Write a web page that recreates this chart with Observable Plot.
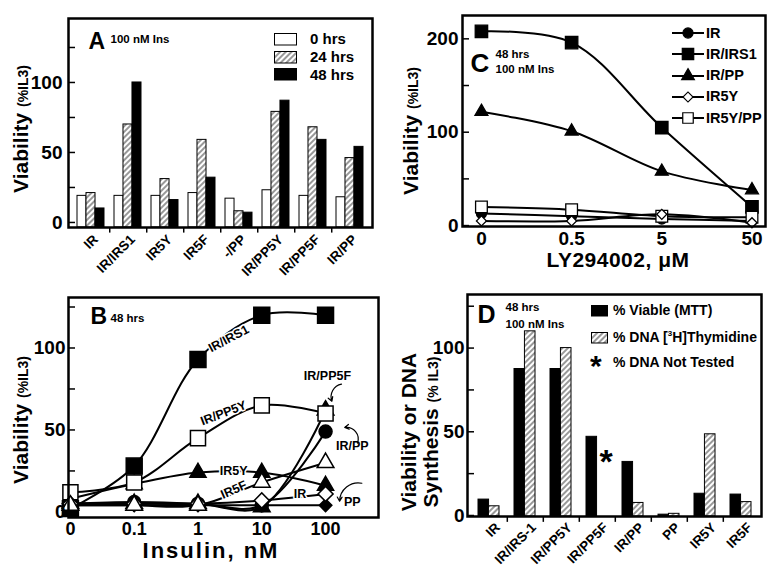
<!DOCTYPE html>
<html>
<head>
<meta charset="utf-8">
<script src="https://cdn.jsdelivr.net/npm/d3@7"></script>
<script src="https://cdn.jsdelivr.net/npm/@observablehq/plot@0.6"></script>
<style>
html,body{margin:0;padding:0;background:#fff;}
#fig{position:relative;width:774px;height:570px;overflow:hidden;font-family:"Liberation Sans",Arial,Helvetica,sans-serif;font-weight:bold;color:#000;background:#fff;}
.t{position:absolute;white-space:nowrap;line-height:1;}
.yl{position:absolute;white-space:nowrap;line-height:1;transform:translate(-50%,-50%) rotate(-90deg);font-size:21px;}
.yl span{font-size:14px;}
</style>
</head>
<body>
<svg width="0" height="0" style="position:absolute">
<defs>
<pattern id="hatch" width="4" height="4" patternUnits="userSpaceOnUse" patternTransform="rotate(45)">
<rect width="4" height="4" fill="#fff"/>
<line x1="1" y1="0" x2="1" y2="4" stroke="#777" stroke-width="1.5"/>
</pattern>
</defs>
</svg>
<div id="fig"></div>
<script>
// ================= DATA =================
// Panel A : viability at 100 nM insulin
const aGroups = ["IR","IR/IRS1","IR5Y","IR5F","-/PP","IR/PP5Y","IR/PP5F","IR/PP"];
const aSeries = ["0 hrs","24 hrs","48 hrs"];
const aHr0  = [19, 19, 19, 21, 17, 23, 19, 18];
const aHr24 = [21, 70, 31, 59,  8, 79, 68, 46];
const aHr48 = [10,100, 16, 32,  7, 87, 59, 54];
const aYTicks = [0, 50, 100];
const aYMinor = [25, 75, 125];

// Panel B : insulin dose response, 48 hrs
const bDoses = ["0","0.1","1","10","100"];
const bNames = ["IR/IRS1","IR/PP5Y","IR/PP5F","IR/PP","IR5Y","IR5F","IR","PP"];
const bIRS1 = [2, 28, 93, 120, 120];
const bPP5Y = [12, 18, 45, 65, 60];
const bPP5F = [5, 5, 5, 3, 62];
const bIRPP = [5, 6, 5, 4, 49];
const bIR5Y = [8, 17, 24, 24, 16];
const bIR5F = [4, 4, 4, 18, 30];
const bIR   = [5, 5, 5, 7, 11];
const bPP   = [4, 4, 4, 4, 4];
const bYTicks = [0, 50, 100];
const bYMinor = [25, 75, 125];
const bLabelText  = ["IR/IRS1","IR/PP5Y","IR5Y","IR5F","IR","IR/PP5F","IR/PP","PP"];
const bLabelX     = [2.48, 2.40, 2.56, 2.56, 3.60, 4.03, 4.42, 4.42];
const bLabelY     = [105.6, 60.2, 24.9, 13.5, 10.7, 83.2, 40.5, 6];
const bLabelAngle = [-28, -21, 0, -24, 0, 0, 0, 0];
const bArrowX1 = [4.25, 4.50, 4.57];
const bArrowY1 = [78, 42, 17.5];
const bArrowX2 = [4.10, 4.30, 4.22];
const bArrowY2 = [67.5, 51.5, 6.5];

// Panel C : LY294002 dose response
const cDoses = ["0","0.5","5","50"];
const cNames = ["IR","IR/IRS1","IR/PP","IR5Y","IR5Y/PP"];
const cIR     = [13, 10, 7, 5];
const cIRS1   = [208, 196, 105, 20];
const cIRPP   = [122, 101, 58, 38];
const cIR5Y   = [5, 5, 12, 3];
const cIR5YPP = [20, 17, 10, 9];
const cYTicks = [0, 100, 200];
const cYMinor = [50, 150];

// Panel D : viability vs DNA synthesis
const dGroups = ["IR","IR/IRS-1","IR/PP5Y","IR/PP5F","IR/PP","PP","IR5Y","IR5F"];
const dSeries = ["% Viable (MTT)","% DNA [3H]Thymidine"];
const dViable = [9.5, 87.5, 87.5, 47, 32, 0.5, 13, 12.5];
const dDNA    = [5.5, 110, 100, null, 7.5, 1, 48.5, 8];
const dNotTested = ["IR/PP5F"];
const dNotTestedY = [37];
const dYTicks = [0, 50, 100];
const dYMinor = [25, 75, 125];

// ================= HELPERS =================
const FONT = '"Liberation Sans", Arial, Helvetica, sans-serif';
const fig = document.getElementById("fig");
function put(el, l, t){ el.style.position="absolute"; el.style.left=l+"px"; el.style.top=t+"px"; fig.appendChild(el); return el; }
function txt(html, x, yc, size, anchor){ const d=document.createElement("div"); d.className="t"; d.innerHTML=html; d.style.fontSize=size+"px"; d.style.top=(yc-size/2)+"px"; d.style.left=x+"px"; if(anchor==="middle") d.style.transform="translateX(-50%)"; fig.appendChild(d); return d; }
function ylab(html, cx, cy){ const d=document.createElement("div"); d.className="yl"; d.innerHTML=html; d.style.left=cx+"px"; d.style.top=cy+"px"; fig.appendChild(d); return d; }
function yAxes(major, minor, size, pad){
  return [
    Plot.axisY({ticks: minor.concat(major), tickSize: -7, fill: "none", strokeWidth: 1.5, label: null}),
    Plot.axisY({ticks: major, tickSize: 0, tickPadding: pad, fontSize: size, fontWeight: "bold", label: null})
  ];
}
const baseStyle = {fontFamily: FONT, fontWeight: "bold", background: "transparent", overflow: "visible", color: "#000"};

// ================= PANEL A =================
{
  const W=387,H=290,ML=68,MR=15,MT=18,MB=63,PI=0.28,PO=0.2;
  const step=(W-ML-MR)/(aGroups.length-PI+2*PO), bw=step*(1-PI);
  const y0=-3.6;
  const arrs=[aHr0,aHr24,aHr48];
  const fills=["#fff","url(#hatch)","#000"];
  const rows=aGroups.flatMap((g,i)=>arrs.map((a,k)=>({g, s:aSeries[k], v:a[i]})));
  const p=Plot.plot({
    width:W, height:H, marginLeft:ML, marginRight:MR, marginTop:MT, marginBottom:MB,
    style:baseStyle,
    x:{type:"band", domain:aGroups, paddingInner:PI, paddingOuter:PO, axis:null},
    y:{domain:[y0,145.7]},
    marks:[
      ...aSeries.map((s,k)=>Plot.barY(rows.filter(d=>d.s===s), {x:"g", y1:y0, y2:"v", fill:fills[k], stroke:"#000", strokeWidth:1, insetLeft:k*bw/3, insetRight:(2-k)*bw/3})),
      Plot.ruleX(aGroups.slice(0,-1), {x:d=>d, dx:step/2, y1:y0, y2:y0-4, strokeWidth:1.5}),
      Plot.text(aGroups, {x:d=>d, text:d=>d, frameAnchor:"bottom", rotate:-45, textAnchor:"end", lineAnchor:"top", dx:1, dy:6, fontSize:13.5, fontWeight:"bold"}),
      ...yAxes(aYTicks, aYMinor, 19, 6),
      Plot.frame({stroke:"#000", strokeWidth:2.5}),
      Plot.text(["A"], {text:d=>d, frameAnchor:"top-left", dx:20, dy:14, fontSize:23, fontWeight:"bold", textAnchor:"start", lineAnchor:"top"}),
      Plot.text(["100 nM Ins"], {text:d=>d, frameAnchor:"top-left", dx:42, dy:16, fontSize:11.5, fontWeight:"bold", textAnchor:"start", lineAnchor:"top"})
    ]
  });
  put(p, 0, 0);
  ylab('Viability <span>(%IL3)</span>', 20, 129);
  const sw=[[274,32.7],[274,50.7],[274,68.3]];
  aSeries.forEach((s,k)=>{
    const svg=d3.create("svg").attr("width",23).attr("height",13);
    svg.append("rect").attr("x",0.5).attr("y",0.5).attr("width",22).attr("height",11.5).attr("fill",fills[k]).attr("stroke","#000").attr("stroke-width",1);
    put(svg.node(), sw[k][0], sw[k][1]);
    txt(s, 310, sw[k][1]+6, 15);
  });
}

// ================= PANEL B =================
{
  const W=387,H=280,ML=68,MR=9,MT=7,MB=53;
  const vals=[bIRS1,bPP5Y,bPP5F,bIRPP,bIR5Y,bIR5F,bIR,bPP];
  const rows=bNames.flatMap((n,k)=>vals[k].map((v,i)=>({n, i, v})));
  const sty={
    "IR/IRS1":{symbol:"square",fill:"#000",r:9,rot:0},
    "IR/PP5Y":{symbol:"square",fill:"#fff",r:8.5,rot:0},
    "IR/PP5F":{symbol:"triangle",fill:"#000",r:6.2,rot:0},
    "IR/PP":{symbol:"circle",fill:"#000",r:6.5,rot:0},
    "IR5Y":{symbol:"triangle",fill:"#000",r:6,rot:0},
    "IR5F":{symbol:"triangle",fill:"#fff",r:6.2,rot:0},
    "IR":{symbol:"square",fill:"#fff",r:6,rot:45},
    "PP":{symbol:"square",fill:"#000",r:5,rot:45}
  };
  const order=["IR/IRS1","IR/PP","PP","IR5Y","IR/PP5F","IR/PP5Y","IR","IR5F"];
  const labels=bLabelText.map((t,k)=>({t, x:bLabelX[k], y:bLabelY[k], a:bLabelAngle[k]}));
  const arrows=bArrowX1.map((x,k)=>({x1:x, y1:bArrowY1[k], x2:bArrowX2[k], y2:bArrowY2[k]}));
  const bends=[-50,-60,-50];
  const p=Plot.plot({
    width:W, height:H, marginLeft:ML, marginRight:MR, marginTop:MT, marginBottom:MB,
    style:baseStyle,
    x:{domain:[-0.03,4.83]},
    y:{domain:[-3.4,130.8]},
    marks:[
      Plot.line(rows, {x:"i", y:"v", z:"n", curve:"catmull-rom", stroke:"#000", strokeWidth:2}),
      ...order.map(n=>Plot.dot(rows.filter(d=>d.n===n), {x:"i", y:"v", symbol:sty[n].symbol, r:sty[n].r, rotate:sty[n].rot, fill:sty[n].fill, stroke:"#000", strokeWidth:1.5})),
      Plot.text(labels, {x:"x", y:"y", text:"t", rotate:"a", fontSize:12.5, fontWeight:"bold", fill:"#000", stroke:"#fff", strokeWidth:3}),
      ...arrows.map((a,k)=>Plot.arrow([a], {x1:"x1", y1:"y1", x2:"x2", y2:"y2", bend:bends[k], stroke:"#000", strokeWidth:1.2, headLength:6})),
      Plot.axisX({ticks:[0,1,2,3,4], tickFormat:i=>bDoses[i], tickSize:0, tickPadding:5, fontSize:18, fontWeight:"bold", label:null}),
      ...yAxes(bYTicks, bYMinor, 19, 3),
      Plot.frame({stroke:"#000", strokeWidth:2.5}),
      Plot.text(["B"], {text:d=>d, frameAnchor:"top-left", dx:22, dy:10, fontSize:23, fontWeight:"bold", textAnchor:"start", lineAnchor:"top"}),
      Plot.text(["48 hrs"], {text:d=>d, frameAnchor:"top-left", dx:42, dy:16, fontSize:11.5, fontWeight:"bold", textAnchor:"start", lineAnchor:"top"})
    ]
  });
  put(p, 0, 290);
  ylab('Viability <span>(%IL3)</span>', 20, 420);
  const tb=txt("Insulin, nM", 211, 551, 22, "middle");
  tb.style.letterSpacing="2px";
}

// ================= PANEL C =================
{
  const W=387,H=290,ML=75,MR=9,MT=15,MB=64;
  const vals=[cIR,cIRS1,cIRPP,cIR5Y,cIR5YPP];
  const rows=cNames.flatMap((n,k)=>vals[k].map((v,i)=>({n,i,v})));
  const sty={
    "IR":{symbol:"circle",fill:"#000",r:5,rot:0,d3s:d3.symbolCircle},
    "IR/IRS1":{symbol:"square",fill:"#000",r:7,rot:0,d3s:d3.symbolSquare},
    "IR/PP":{symbol:"triangle",fill:"#000",r:4.8,rot:0,d3s:d3.symbolTriangle},
    "IR5Y":{symbol:"square",fill:"#fff",r:4,rot:45,d3s:d3.symbolSquare},
    "IR5Y/PP":{symbol:"square",fill:"#fff",r:6.6,rot:0,d3s:d3.symbolSquare}
  };
  const order=["IR","IR/IRS1","IR/PP","IR5Y/PP","IR5Y"];
  const p=Plot.plot({
    width:W, height:H, marginLeft:ML, marginRight:MR, marginTop:MT, marginBottom:MB,
    style:baseStyle,
    x:{domain:[-0.21,3.15]},
    y:{domain:[-1,225]},
    marks:[
      Plot.line(rows, {x:"i", y:"v", z:"n", curve:"catmull-rom", stroke:"#000", strokeWidth:2}),
      ...order.map(n=>Plot.dot(rows.filter(d=>d.n===n), {x:"i", y:"v", symbol:sty[n].symbol, r:sty[n].r, rotate:sty[n].rot, fill:sty[n].fill, stroke:"#000", strokeWidth:1.3})),
      Plot.axisX({ticks:[0,1,2,3], tickFormat:i=>cDoses[i], tickSize:0, tickPadding:5, fontSize:19, fontWeight:"bold", label:null}),
      ...yAxes(cYTicks, cYMinor, 19, 4),
      Plot.frame({stroke:"#000", strokeWidth:2.5}),
      Plot.text(["C"], {text:d=>d, frameAnchor:"top-left", dx:8, dy:38, fontSize:26, fontWeight:"bold", textAnchor:"start", lineAnchor:"top"}),
      Plot.text(["48 hrs"], {text:d=>d, frameAnchor:"top-left", dx:33, dy:34, fontSize:11.5, fontWeight:"bold", textAnchor:"start", lineAnchor:"top"}),
      Plot.text(["100 nM Ins"], {text:d=>d, frameAnchor:"top-left", dx:33, dy:49, fontSize:11.5, fontWeight:"bold", textAnchor:"start", lineAnchor:"top"})
    ]
  });
  put(p, 387, 0);
  ylab('Viability <span>(%IL3)</span>', 410, 131);
  const tc=txt("LY294002, &mu;M", 618, 259, 21, "middle");
  tc.style.letterSpacing="0.5px";
  const rowsY=[33.3,54.3,75.7,96.7,118.3];
  const lsize={"IR":80,"IR/IRS1":130,"IR/PP":70,"IR5Y":50,"IR5Y/PP":110};
  cNames.forEach((n,k)=>{
    const s=d3.create("svg").attr("width",32).attr("height",16).style("overflow","visible");
    s.append("line").attr("x1",0).attr("x2",32).attr("y1",8).attr("y2",8).attr("stroke","#000").attr("stroke-width",2);
    s.append("path").attr("d",d3.symbol(sty[n].d3s, lsize[n])()).attr("transform",`translate(16,8) rotate(${sty[n].rot})`).attr("fill",sty[n].fill).attr("stroke","#000").attr("stroke-width",1.2);
    put(s.node(), 672, rowsY[k]-8);
    txt(n, 706, rowsY[k], 14.5);
  });
}

// ================= PANEL D =================
{
  const W=387,H=280,ML=80,MR=13,MT=4,MB=54,PI=0.43,PO=0.23;
  const step=(W-ML-MR)/(dGroups.length-PI+2*PO), bw=step*(1-PI);
  const y0=-0.6;
  const rowsV=dGroups.map((g,i)=>({g, v:dViable[i]}));
  const rowsD=dGroups.map((g,i)=>({g, v:dDNA[i]})).filter(d=>d.v!=null);
  const nt=dNotTested.map((g,i)=>({g, v:dNotTestedY[i]}));
  const p=Plot.plot({
    width:W, height:H, marginLeft:ML, marginRight:MR, marginTop:MT, marginBottom:MB,
    style:baseStyle,
    x:{type:"band", domain:dGroups, paddingInner:PI, paddingOuter:PO, axis:null},
    y:{domain:[y0,132]},
    marks:[
      Plot.barY(rowsV, {x:"g", y1:y0, y2:"v", fill:"#000", stroke:"#000", strokeWidth:1, insetRight:bw/2}),
      Plot.barY(rowsD, {x:"g", y1:y0, y2:"v", fill:"url(#hatch)", stroke:"#000", strokeWidth:1, insetLeft:bw/2}),
      Plot.text(nt, {x:"g", y:"v", text:()=>"*", dx:bw/4+4, dy:9, fontSize:34, fontWeight:"bold"}),
      Plot.ruleX(dGroups.slice(0,-1), {x:d=>d, dx:step/2, y1:y0, y2:y0-3.5, strokeWidth:1.5}),
      Plot.text(dGroups, {x:d=>d, text:d=>d, frameAnchor:"bottom", rotate:-45, textAnchor:"end", lineAnchor:"top", dx:5, dy:5, fontSize:13.5, fontWeight:"bold"}),
      ...yAxes(dYTicks, dYMinor, 19, 3),
      Plot.frame({stroke:"#000", strokeWidth:2.5}),
      Plot.text(["D"], {text:d=>d, frameAnchor:"top-left", dx:10, dy:11, fontSize:25, fontWeight:"bold", textAnchor:"start", lineAnchor:"top"}),
      Plot.text(["48 hrs"], {text:d=>d, frameAnchor:"top-left", dx:38, dy:8, fontSize:11.5, fontWeight:"bold", textAnchor:"start", lineAnchor:"top"}),
      Plot.text(["100 nM Ins"], {text:d=>d, frameAnchor:"top-left", dx:38, dy:25, fontSize:11.5, fontWeight:"bold", textAnchor:"start", lineAnchor:"top"})
    ]
  });
  put(p, 387, 290);
  ylab('Viability or DNA', 408, 432);
  ylab('Synthesis <span>(% IL3)</span>', 430, 432);
  const fills=["#000","url(#hatch)"];
  const ys=[310,337];
  dSeries.forEach((s,k)=>{
    const svg=d3.create("svg").attr("width",17).attr("height",12);
    svg.append("rect").attr("x",0.5).attr("y",0.5).attr("width",16).attr("height",10.5).attr("fill",fills[k]).attr("stroke","#000").attr("stroke-width",1);
    put(svg.node(), 591, ys[k]-5.5);
  });
  txt("% Viable (MTT)", 613, 310, 14);
  txt("% DNA [<sup style='font-size:8px'>3</sup>H]Thymidine", 613, 337, 14);
  txt("*", 590, 366, 30);
  txt("% DNA Not Tested", 613, 362, 14);
}
</script>
</body>
</html>
